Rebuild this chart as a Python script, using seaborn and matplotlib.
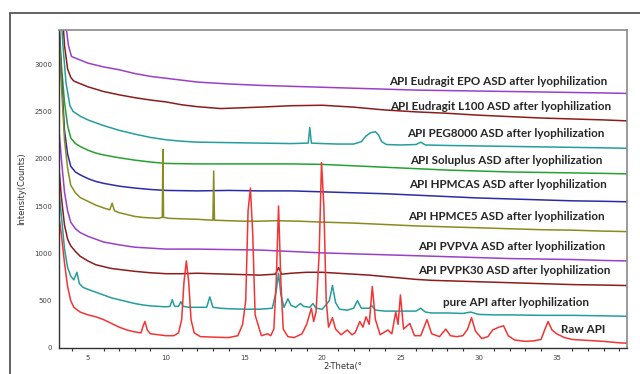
import pandas as pd
import matplotlib.pyplot as plt
import seaborn as sns
from matplotlib.patches import Rectangle
from matplotlib.ticker import MultipleLocator

# XRD traces: (2-theta, counts) vertices per sample
epo_x = [3.45, 3.6, 3.75, 3.95, 5.0, 6.0, 7.0, 8.0, 9.0, 10.0, 11.0, 12.0, 14.0, 16.0, 18.0, 20.0,
         22.0, 24.0, 26.0, 28.0, 30.0, 32.0, 34.0, 36.0, 38.0, 39.5]
epo_y = [3700, 3400, 3200, 3080, 3010, 2970, 2940, 2900, 2870, 2850, 2830, 2810, 2790, 2775, 2765, 2755,
         2745, 2735, 2725, 2720, 2715, 2710, 2705, 2700, 2695, 2690]

l100_x = [3.35, 3.5, 3.7, 3.9, 4.1, 5.0, 6.0, 7.0, 8.0, 9.0, 10.0, 11.0, 12.0, 13.5, 16.0, 18.0, 20.0,
          22.0, 24.0, 26.0, 28.0, 30.0, 32.0, 34.0, 36.0, 38.0, 39.5]
l100_y = [3600, 3200, 2950, 2860, 2820, 2760, 2710, 2675, 2645, 2620, 2600, 2570, 2550, 2530, 2545, 2560, 2565,
          2545, 2515, 2495, 2480, 2460, 2445, 2430, 2420, 2410, 2400]

peg_x = [3.25, 3.4, 3.6, 3.85, 4.05, 4.5, 5.0, 6.0, 7.0, 8.0, 9.0, 10.0, 11.0, 12.0, 14.0, 16.0, 18.0,
         19.1, 19.2, 19.3, 20.0, 21.0, 22.0, 22.5, 22.8, 23.1, 23.4, 23.6, 23.8, 24.1, 25.0, 26.0, 26.3,
         26.6, 28.0, 30.0, 32.0, 34.0, 36.0, 38.0, 39.5]
peg_y = [3600, 3200, 2800, 2560, 2500, 2450, 2410, 2350, 2300, 2260, 2225, 2200, 2185, 2175, 2170, 2165, 2160,
         2165, 2330, 2165, 2160, 2155, 2155, 2180, 2240, 2275, 2285, 2250, 2180, 2150, 2145, 2150, 2175,
         2145, 2140, 2135, 2130, 2125, 2120, 2115, 2110]

solu_x = [3.15, 3.3, 3.5, 3.7, 3.9, 4.2, 4.5, 5.0, 5.5, 6.0, 7.0, 8.0, 9.0, 10.0, 12.0, 14.0, 16.0, 18.0,
          20.0, 22.0, 24.0, 26.0, 28.0, 30.0, 32.0, 34.0, 36.0, 38.0, 39.5]
solu_y = [3450, 3000, 2600, 2350, 2220, 2160, 2130, 2090, 2060, 2040, 2010, 1985, 1965, 1950, 1945, 1945, 1945, 1945,
          1940, 1925, 1910, 1895, 1880, 1870, 1860, 1855, 1850, 1845, 1840]

hpmcas_x = [3.15, 3.3, 3.5, 3.7, 3.9, 4.2, 4.5, 5.0, 5.5, 6.0, 7.0, 8.0, 9.0, 10.0, 12.0, 14.0, 16.0, 18.0,
            20.0, 22.0, 24.0, 26.0, 28.0, 30.0, 32.0, 34.0, 36.0, 38.0, 39.5]
hpmcas_y = [3400, 2900, 2300, 2050, 1920, 1860, 1830, 1790, 1760, 1740, 1710, 1690, 1675, 1665, 1660, 1665, 1660, 1660,
            1650, 1640, 1630, 1615, 1600, 1585, 1575, 1565, 1555, 1550, 1545]

e5_x = [3.15, 3.3, 3.5, 3.7, 3.9, 4.2, 4.5, 5.0, 5.5, 6.0, 6.4, 6.55, 6.7, 7.0, 7.5, 8.0, 8.5, 9.0, 9.5,
        9.76, 9.8, 9.84, 10.2, 11.0, 12.0, 13.0, 13.05, 13.1, 14.0, 15.0, 16.0, 17.0, 18.5, 20.0, 22.0,
        24.0, 26.0, 28.0, 30.0, 32.0, 34.0, 36.0, 38.0, 39.5]
e5_y = [3400, 2800, 2200, 1900, 1720, 1640, 1590, 1550, 1510, 1480, 1460, 1530, 1450, 1430, 1410, 1390, 1380, 1375, 1370,
        1380, 2100, 1380, 1370, 1365, 1360, 1350, 1870, 1350, 1345, 1340, 1340, 1345, 1340, 1330, 1320,
        1305, 1290, 1280, 1270, 1260, 1250, 1245, 1235, 1230]

pvpva_x = [3.15, 3.3, 3.5, 3.7, 3.9, 4.2, 4.5, 5.0, 5.5, 6.0, 7.0, 8.0, 9.0, 10.0, 12.0, 14.0, 16.0, 18.0,
           20.0, 22.0, 24.0, 26.0, 28.0, 30.0, 32.0, 34.0, 36.0, 38.0, 39.5]
pvpva_y = [2300, 2000, 1650, 1450, 1330, 1260, 1220, 1180, 1150, 1120, 1090, 1065, 1055, 1045, 1045, 1040, 1035, 1020,
           1005, 995, 985, 975, 965, 955, 945, 940, 935, 925, 920]

k30_x = [3.15, 3.3, 3.5, 3.7, 3.9, 4.2, 4.5, 5.0, 5.5, 6.0, 6.5, 7.0, 8.0, 9.0, 10.0, 11.0, 12.0, 13.0, 14.0,
         15.0, 16.0, 17.0, 17.2, 17.4, 18.0, 19.0, 20.0, 21.0, 22.0, 23.0, 24.0, 25.0, 26.0, 27.0, 28.0,
         30.0, 32.0, 34.0, 36.0, 38.0, 39.5]
k30_y = [1900, 1600, 1300, 1150, 1080, 1020, 970, 920, 880, 860, 840, 830, 810, 795, 785, 785, 790, 785, 780,
         775, 770, 780, 850, 780, 790, 800, 800, 790, 780, 770, 755, 740, 725, 715, 710,
         700, 690, 680, 670, 665, 660]

pure_x = [3.15, 3.3, 3.5, 3.7, 3.9, 4.1, 4.3, 4.45, 4.7, 5.0, 5.5, 6.0, 6.5, 7.0, 7.5, 8.0, 8.5, 9.0, 9.5,
          10.0, 10.25, 10.4, 10.55, 10.8, 10.95, 11.1, 11.5, 12.0, 12.6, 12.8, 13.0, 13.5, 14.0, 15.0, 16.0,
          16.8, 17.05, 17.2, 17.35, 17.55, 17.8, 18.0, 18.3, 18.6, 18.8, 19.2, 19.4, 19.6, 20.0, 20.45,
          20.65, 20.85, 21.1, 21.6, 22.0, 22.25, 22.5, 23.0, 23.15, 23.4, 24.0, 25.0, 26.0, 26.3, 26.6,
          27.0, 28.0, 29.0, 29.5, 30.0, 31.0, 32.0, 34.0, 36.0, 38.0, 39.5]
pure_y = [1650, 1400, 1050, 850, 760, 720, 800, 680, 640, 620, 590, 560, 530, 510, 490, 470, 455, 445, 440,
          435, 440, 510, 440, 440, 490, 440, 430, 430, 430, 540, 430, 420, 415, 410, 410,
          420, 600, 790, 560, 430, 520, 450, 430, 470, 440, 430, 470, 420, 410, 500,
          660, 480, 410, 400, 420, 500, 420, 420, 450, 400, 390, 390, 390, 420, 380,
          370, 370, 365, 380, 355, 350, 350, 345, 345, 340, 335]

raw_x = [3.15, 3.3, 3.5, 3.7, 3.9, 4.1, 4.5, 5.0, 5.5, 6.0, 6.5, 7.0, 7.5, 8.0, 8.4, 8.55, 8.65, 8.8, 9.0,
         9.5, 10.0, 10.5, 10.8, 11.0, 11.15, 11.3, 11.45, 11.6, 11.8, 12.2, 13.0, 14.0, 14.6, 14.9, 15.1,
         15.25, 15.4, 15.55, 15.7, 16.1, 16.5, 16.7, 16.9, 17.05, 17.2, 17.35, 17.5, 17.8, 18.2, 18.7, 19.0,
         19.3, 19.45, 19.6, 19.8, 19.95, 20.1, 20.25, 20.4, 20.65, 20.85, 21.2, 21.6, 21.9, 22.1, 22.4,
         22.6, 22.8, 23.0, 23.2, 23.4, 23.7, 24.2, 24.45, 24.7, 24.85, 25.0, 25.2, 25.6, 25.9, 26.3, 26.7,
         27.0, 27.5, 27.9, 28.2, 28.6, 29.0, 29.3, 29.55, 29.8, 30.2, 30.6, 30.9, 31.3, 31.6, 31.9, 32.3,
         33.0, 33.5, 34.0, 34.25, 34.45, 34.7, 35.0, 35.5, 36.0, 37.0, 38.0, 39.0, 39.5]
raw_y = [1380, 1200, 900, 650, 500, 430, 380, 350, 330, 300, 260, 220, 190, 170, 160, 240, 280, 190, 150,
         140, 130, 130, 160, 300, 700, 920, 700, 300, 160, 120, 115, 110, 130, 250, 500,
         1450, 1690, 1200, 350, 130, 150, 130, 200, 700, 1500, 700, 200, 120, 110, 150, 250,
         420, 280, 380, 1000, 1960, 1500, 500, 220, 320, 200, 140, 190, 140, 160, 280,
         220, 330, 250, 650, 300, 140, 190, 150, 380, 250, 560, 200, 260, 130, 130, 300,
         150, 120, 200, 130, 120, 130, 200, 320, 180, 100, 120, 190, 220, 235, 130, 85,
         70, 75, 90, 200, 280, 190, 150, 110, 90, 80, 70, 55, 50]

samples = ["EPO", "L100", "PEG8000", "Soluplus", "HPMCAS", "HPMCE5", "PVPVA", "PVPK30", "pure", "raw"]
xs = [epo_x, l100_x, peg_x, solu_x, hpmcas_x, e5_x, pvpva_x, k30_x, pure_x, raw_x]
ys = [epo_y, l100_y, peg_y, solu_y, hpmcas_y, e5_y, pvpva_y, k30_y, pure_y, raw_y]

labels = ["API Eudragit EPO ASD after lyophilization",
          "API Eudragit L100 ASD after lyophilization",
          "API PEG8000 ASD after lyophilization",
          "API Soluplus ASD after lyophilization",
          "API HPMCAS ASD after lyophilization",
          "API HPMCE5 ASD after lyophilization",
          "API PVPVA ASD after lyophilization",
          "API PVPK30 ASD after lyophilization",
          "pure API after lyophilization",
          "Raw API"]
label_pos = [(38.27, 2815), (38.46, 2550), (38.08, 2264), (37.95, 1978), (38.21, 1724),
             (38.08, 1394), (38.14, 1076), (38.46, 822), (37.05, 483), (38.14, 196)]

colors = {"EPO": "#9a3fc9", "L100": "#8c1c1c", "PEG8000": "#259d9d", "Soluplus": "#27a032",
          "HPMCAS": "#2b2ba8", "HPMCE5": "#8a8a1f", "PVPVA": "#9a3fc9", "PVPK30": "#8c1c1c",
          "pure": "#259d9d", "raw": "#f23434"}

rows = []
for s, x, y in zip(samples, xs, ys):
    for a, c in zip(x, y):
        rows.append({"sample": s, "angle": a, "counts": c})
df = pd.DataFrame(rows)

sns.set_style("white")
plt.rcParams["font.family"] = ["DejaVu Sans"]

fig = plt.figure(figsize=(6.4, 3.74), dpi=100)
ax = fig.add_axes([59 / 640, 26 / 374, 568 / 640, 318 / 374])

# outer frame of the original figure
fig.patches.append(Rectangle((10 / 640, -0.1), 1.2, 1 - 13 / 374 + 0.1, transform=fig.transFigure,
                             fill=False, edgecolor="#555555", linewidth=1.3))

sns.lineplot(data=df, x="angle", y="counts", hue="sample", palette=colors, estimator=None,
             sort=False, legend=False, linewidth=1.1, ax=ax)

for text, (tx, ty) in zip(labels, label_pos):
    ax.text(tx, ty, text, ha="right", va="center", fontsize=8.4, fontweight="bold",
            family=["Lato", "DejaVu Sans"], color="#262626")

ax.set_xlim(3.15, 39.5)
ax.set_ylim(0, 3360)
ax.xaxis.set_major_locator(MultipleLocator(5))
ax.xaxis.set_minor_locator(MultipleLocator(1))
ax.yaxis.set_major_locator(MultipleLocator(500))
ax.tick_params(axis="both", which="major", direction="out", length=3, width=0.8,
               labelsize=5, labelcolor="#444444", color="#333333", pad=2)
ax.tick_params(axis="x", which="minor", direction="out", length=2.5, width=0.8, color="#333333",
               bottom=True)
ax.set_xlabel("2-Theta(°", fontsize=6, color="#333333", labelpad=1)
ax.set_ylabel("Intensity(Counts)", fontsize=6, color="#333333", labelpad=6)

for side in ["left", "bottom"]:
    ax.spines[side].set_color("#333333")
    ax.spines[side].set_linewidth(1.0)
for side in ["top", "right"]:
    ax.spines[side].set_color("#8a8a8a")
    ax.spines[side].set_linewidth(1.2)

fig.savefig("out.png", dpi=100)
